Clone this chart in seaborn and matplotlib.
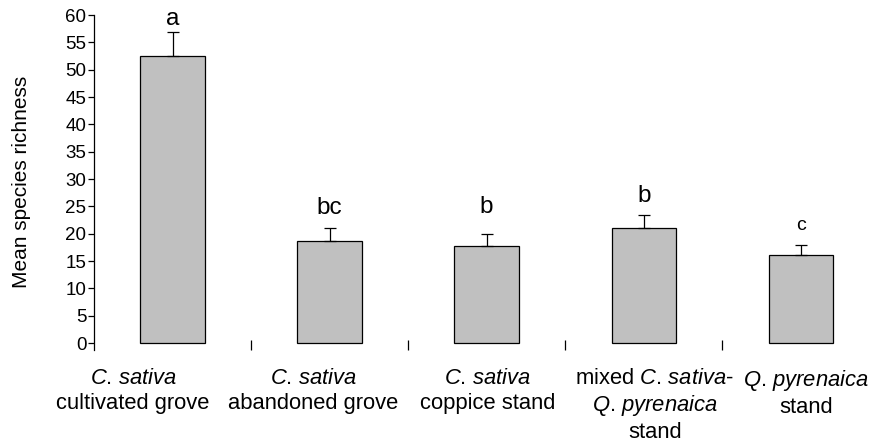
import matplotlib
matplotlib.use("Agg")
import matplotlib.pyplot as plt
import matplotlib.transforms as mtrans
import seaborn as sns
import numpy as np
import pandas as pd

# ---- data ----
categories = ["cultivated grove", "abandoned grove", "coppice stand",
              "mixed stand", "Q. pyrenaica stand"]
tick_labels = [
    r"$\mathit{C}$. $\mathit{sativa}$" + "\ncultivated grove",
    r"$\mathit{C}$. $\mathit{sativa}$" + "\nabandoned grove",
    r"$\mathit{C}$. $\mathit{sativa}$" + "\ncoppice stand",
    r"mixed $\mathit{C}$. $\mathit{sativa}$-" + "\n" + r"$\mathit{Q}$. $\mathit{pyrenaica}$" + "\nstand",
    r"$\mathit{Q}$. $\mathit{pyrenaica}$" + "\nstand",
]
means = [52.5, 18.7, 17.8, 21.1, 16.1]
errors = [4.4, 2.4, 2.2, 2.4, 1.8]
letters = ["a", "bc", "b", "b", "c"]
y_ticks = list(range(0, 61, 5))

# ---- style / layout ----
letter_y = [58.2, 23.6, 23.8, 25.8, 20.6]
label_shift_px = [-39.5, -16, 1, 11, 5]

sns.set_style("ticks")
plt.rcParams["font.family"] = ["Liberation Sans", "DejaVu Sans"]
plt.rcParams["mathtext.fontset"] = "custom"
plt.rcParams["mathtext.rm"] = "Liberation Sans"
plt.rcParams["mathtext.it"] = "Liberation Sans:italic"
for k in ["text.color", "axes.labelcolor", "xtick.color", "ytick.color", "axes.edgecolor"]:
    plt.rcParams[k] = "black"

fig = plt.figure(figsize=(8.7, 4.42), dpi=100)
ax = fig.add_axes([0.108, 0.209, 1.0 - 0.108, 0.966 - 0.209])

df = pd.DataFrame({"cat": categories, "mean": means})
sns.barplot(data=df, x="cat", y="mean", order=categories, color="#c0c0c0",
            saturation=1, width=0.41, edgecolor="black", linewidth=0.9,
            errorbar=None, ax=ax)

xpos = np.arange(len(categories))
ax.errorbar(xpos, means, yerr=[np.zeros(len(means)), errors], fmt="none",
            ecolor="black", elinewidth=0.9, capsize=4.5, capthick=0.9, zorder=1)

for i, (lab, ly) in enumerate(zip(letters, letter_y)):
    if lab == "c":
        ax.text(i, ly, lab, ha="center", va="baseline", fontsize=14,
                family=["Liberation Sans Narrow", "DejaVu Sans Condensed", "Liberation Sans"])
    else:
        ax.text(i, ly, lab, ha="center", va="baseline", fontsize=17.5)

ax.set_ylim(-1.2, 60)
ax.set_xlim(-0.5, 4.44)
ax.set_yticks(y_ticks)
ax.set_yticklabels([str(v) for v in y_ticks], fontsize=13.5)
ax.tick_params(axis="y", direction="out", length=4, width=0.9, pad=1.5)

ax.set_xticks(xpos)
ax.set_xticklabels(tick_labels, fontsize=15.8, linespacing=1.22)
ax.tick_params(axis="x", which="major", length=0, pad=13.5)
ax.set_xticks([0.5, 1.5, 2.5, 3.5], minor=True)
ax.tick_params(axis="x", which="minor", direction="in", length=7, width=0.9)

for lbl, dx in zip(ax.get_xticklabels(), label_shift_px):
    lbl.set_transform(lbl.get_transform() +
                      mtrans.ScaledTranslation(dx / 100.0, 0, fig.dpi_scale_trans))

ax.set_xlabel("")
ax.set_ylabel("Mean species richness", fontsize=15)
ax.yaxis.set_label_coords(-0.081, 0.5)

for s in ["top", "right", "bottom"]:
    ax.spines[s].set_visible(False)
ax.spines["left"].set_linewidth(0.9)

fig.savefig("out.png", dpi=100)
